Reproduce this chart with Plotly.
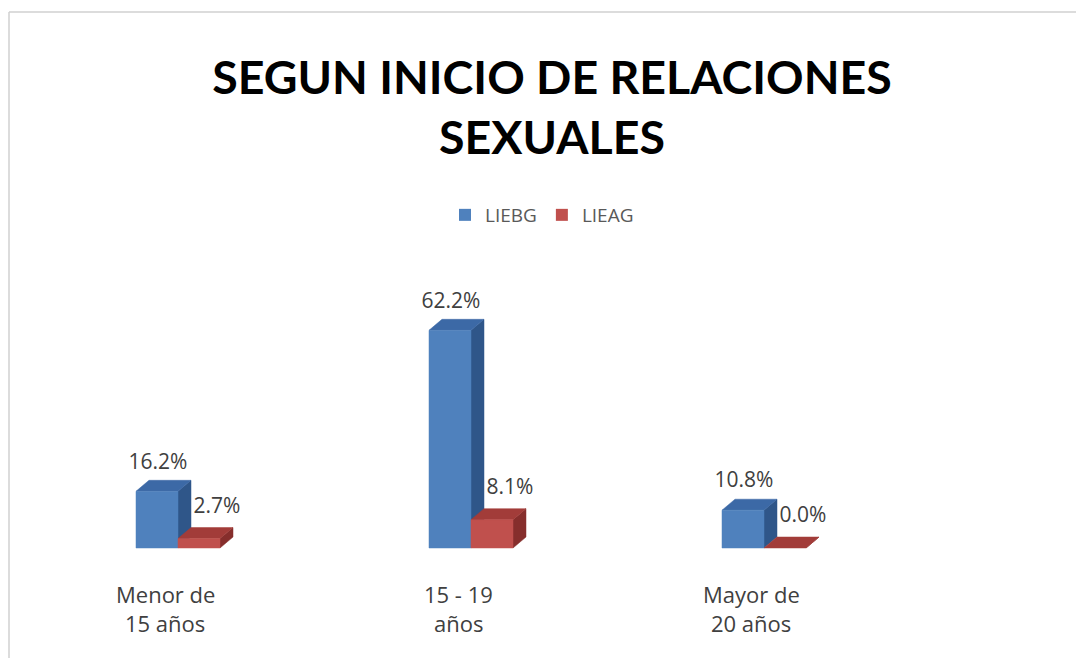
import plotly.graph_objects as go

categories = ["Menor de<br>15 años", "15 - 19<br>años", "Mayor de<br>20 años"]
series_names = ["LIEBG", "LIEAG"]
liebg = [16.2, 62.2, 10.8]
lieag = [2.7, 8.1, 0.0]
title_text = "SEGUN INICIO DE RELACIONES<br>SEXUALES"

# ---- geometry (pixel-calibrated scales, page has an 8px body margin) ----
FIG_W, FIG_H = 1084, 658
PAGE_OFF = 8
PX_PER_CAT = 293.0
X0_PX = 178.0 - PAGE_OFF      # junction of the two bars of category 0
PX_PER_PCT = 3.5
Y0_PX = 548.0 - PAGE_OFF      # baseline (0 %)
xa = -X0_PX / PX_PER_CAT
xb = xa + FIG_W / PX_PER_CAT
ytop = Y0_PX / PX_PER_PCT
ybot = -(FIG_H - Y0_PX) / PX_PER_PCT
W = 42 / PX_PER_CAT
DX = 13 / PX_PER_CAT
DY = 11 / PX_PER_PCT


def py(screen_y):
    """screen pixel row -> paper fraction"""
    return 1 - (screen_y - PAGE_OFF) / FIG_H


def pxp(screen_x):
    return (screen_x - PAGE_OFF) / FIG_W


styles = {
    "LIEBG": dict(front="#4F81BD", top="#3C69A6", side="#2F5689"),
    "LIEAG": dict(front="#C0504D", top="#A23C39", side="#862E2C"),
}
FONT = "Open Sans"
TXT = "#404040"

fig = go.Figure()


def poly(xs, ys, color):
    fig.add_trace(go.Scatter(x=xs + [xs[0]], y=ys + [ys[0]], fill="toself",
                             fillcolor=color, mode="lines",
                             line=dict(width=0.5, color=color),
                             hoverinfo="skip", showlegend=False))


def labels(xs, ys, vals):
    fig.add_trace(go.Scatter(x=xs, y=ys, mode="text",
                             text=[f"{v:.1f}%" for v in vals],
                             textposition="middle center",
                             textfont=dict(family=FONT, size=21, color=TXT),
                             hoverinfo="skip", showlegend=False))


# red labels first (they sit behind the blue bars in the reference)
labels([i + W / 2 + 18 / PX_PER_CAT for i in range(len(lieag))],
       [v + DY + 20 / PX_PER_PCT for v in lieag], lieag)

for name, vals, offs in [("LIEBG", liebg, -W), ("LIEAG", lieag, 0.0)]:
    st = styles[name]
    for i, v in enumerate(vals):
        x0 = i + offs
        x1 = x0 + W
        poly([x1, x1 + DX, x1 + DX, x1], [0, DY, v + DY, v], st["side"])
        poly([x0, x1, x1 + DX, x0 + DX], [v, v, v + DY, v + DY], st["top"])
        if v > 0:
            poly([x0, x1, x1, x0], [0, 0, v, v], st["front"])

labels([i - W / 2 + 1 / PX_PER_CAT for i in range(len(liebg))],
       [v + DY + 17 / PX_PER_PCT for v in liebg], liebg)

# legend entries
for name in series_names:
    fig.add_trace(go.Scatter(x=[None], y=[None], mode="markers", name=name,
                             marker=dict(symbol="square", size=12,
                                         color=styles[name]["front"])))

# category labels
for i, cat in enumerate(categories):
    for k, line in enumerate(cat.split("<br>")):
        fig.add_annotation(x=i - 13 / PX_PER_CAT, xref="x",
                           y=py(594 + 29 * k), yref="paper",
                           text=line, showarrow=False,
                           xanchor="center", yanchor="middle",
                           font=dict(family=FONT, size=22, color=TXT))

# chart frame
fig.add_shape(type="line", xref="paper", yref="paper",
              x0=1 / FIG_W, x1=1, y0=py(12), y1=py(12),
              line=dict(color="#D0D0D0", width=1.5))
fig.add_shape(type="line", xref="paper", yref="paper",
              x0=1 / FIG_W, x1=1 / FIG_W, y0=py(12), y1=0,
              line=dict(color="#D0D0D0", width=1.5))

fig.update_layout(
    width=FIG_W, height=FIG_H,
    margin=dict(l=0, r=0, t=0, b=0),
    paper_bgcolor="white", plot_bgcolor="white",
    title=dict(text=title_text, x=pxp(552), xanchor="center",
               y=py(94), yanchor="middle",
               font=dict(family="Lato", size=46.5,
                         color="#000000", weight="bold")),
    legend=dict(orientation="h", x=pxp(542), xanchor="center",
                y=py(215), yanchor="middle",
                font=dict(family=FONT, size=19, color="#595959"),
                itemwidth=30, bgcolor="rgba(0,0,0,0)"),
    xaxis=dict(range=[xa, xb], visible=False, fixedrange=True),
    yaxis=dict(range=[ybot, ytop], visible=False, fixedrange=True),
    showlegend=True,
)

fig.write_html("out.html")
